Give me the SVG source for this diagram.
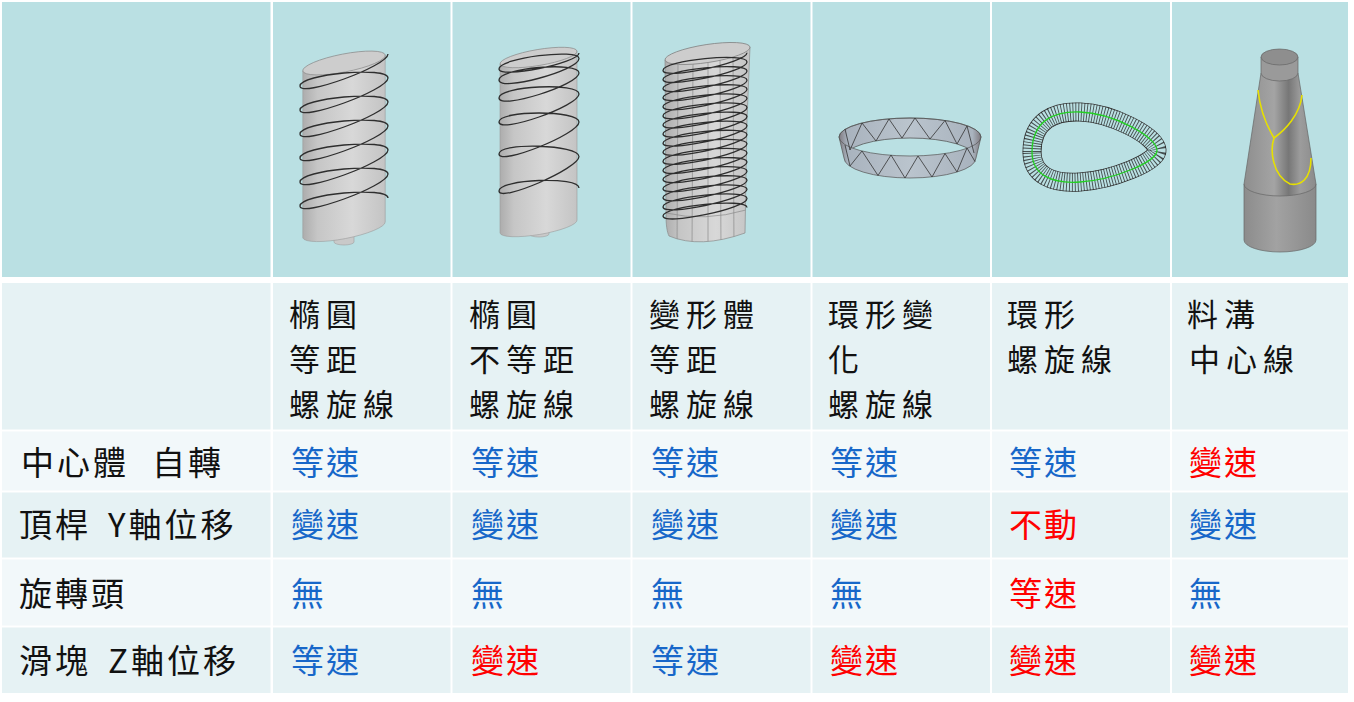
<svg xmlns="http://www.w3.org/2000/svg" width="1354" height="702" viewBox="0 0 1354 702">
<style>
.top{fill:#bae0e3}
.hd{fill:#e6f2f4}
.lt{fill:#f2f8fa}
text{font-family:"Noto Sans CJK TC","Noto Sans CJK SC",sans-serif}
.h{font-size:31px;fill:#111;letter-spacing:6px}
.lb{font-size:33px;fill:#111;letter-spacing:3px}
.b{font-size:33px;fill:#1767c9;letter-spacing:2px}
.r{font-size:33px;fill:#ff0000;letter-spacing:2px}
.hel{fill:none;stroke:#2e2e2e;stroke-width:1.3}
.edge{stroke:#8a8a8a;stroke-width:0.7}
</style>
<defs>
<linearGradient id="gBody" x1="0" y1="0" x2="1" y2="0">
<stop offset="0" stop-color="#adadad"/><stop offset="0.18" stop-color="#c6c6c6"/><stop offset="0.6" stop-color="#d8d8d8"/><stop offset="1" stop-color="#c4c4c4"/>
</linearGradient>
<linearGradient id="gRing" x1="0" y1="0" x2="1" y2="0">
<stop offset="0" stop-color="#7f7a80"/><stop offset="0.06" stop-color="#a9b3be"/><stop offset="0.5" stop-color="#bac4cd"/><stop offset="0.94" stop-color="#a9b3be"/><stop offset="1" stop-color="#7f7a80"/>
</linearGradient>
<linearGradient id="gCyl" x1="0" y1="0" x2="1" y2="0">
<stop offset="0" stop-color="#8c8c8c"/><stop offset="0.45" stop-color="#a2a2a2"/><stop offset="1" stop-color="#8a8a8a"/>
</linearGradient>
<linearGradient id="gCone" x1="0" y1="0" x2="1" y2="0">
<stop offset="0" stop-color="#8e8e8e"/><stop offset="0.42" stop-color="#a4a4a4"/><stop offset="0.62" stop-color="#777"/><stop offset="0.78" stop-color="#9c9c9c"/><stop offset="1" stop-color="#8b8b8b"/>
</linearGradient>
<clipPath id="cTop"><ellipse cx="910" cy="137" rx="71" ry="19"/></clipPath>
<clipPath id="cB3"><path d="M665,60 L666,215 C666,225 667,232 669,236 Q700,249 745,233 L747,120 L750,47 Z"/></clipPath>
<path id="loop5" d="M1032,152 C1032,120 1055,111 1080,112 C1112,113 1156,136 1157,150 C1158,162 1112,180 1080,182 C1052,184 1032,175 1032,152 Z"/>
</defs>

<g id="table">
<rect class="top" x="2" y="2" width="268.5" height="275"/>
<rect class="top" x="273" y="2" width="177.5" height="275"/>
<rect class="top" x="452.5" y="2" width="178" height="275"/>
<rect class="top" x="632.5" y="2" width="178" height="275"/>
<rect class="top" x="812.5" y="2" width="177.5" height="275"/>
<rect class="top" x="992" y="2" width="178" height="275"/>
<rect class="top" x="1172" y="2" width="176" height="275"/>

<rect class="hd" x="2" y="283" width="268.5" height="146.5"/>
<rect class="hd" x="273" y="283" width="177.5" height="146.5"/>
<rect class="hd" x="452.5" y="283" width="178" height="146.5"/>
<rect class="hd" x="632.5" y="283" width="178" height="146.5"/>
<rect class="hd" x="812.5" y="283" width="177.5" height="146.5"/>
<rect class="hd" x="992" y="283" width="178" height="146.5"/>
<rect class="hd" x="1172" y="283" width="176" height="146.5"/>

<rect class="lt" x="2" y="431.5" width="268.5" height="59"/>
<rect class="lt" x="273" y="431.5" width="177.5" height="59"/>
<rect class="lt" x="452.5" y="431.5" width="178" height="59"/>
<rect class="lt" x="632.5" y="431.5" width="178" height="59"/>
<rect class="lt" x="812.5" y="431.5" width="177.5" height="59"/>
<rect class="lt" x="992" y="431.5" width="178" height="59"/>
<rect class="lt" x="1172" y="431.5" width="176" height="59"/>

<rect class="hd" x="2" y="492.5" width="268.5" height="65"/>
<rect class="hd" x="273" y="492.5" width="177.5" height="65"/>
<rect class="hd" x="452.5" y="492.5" width="178" height="65"/>
<rect class="hd" x="632.5" y="492.5" width="178" height="65"/>
<rect class="hd" x="812.5" y="492.5" width="177.5" height="65"/>
<rect class="hd" x="992" y="492.5" width="178" height="65"/>
<rect class="hd" x="1172" y="492.5" width="176" height="65"/>

<rect class="lt" x="2" y="559.5" width="268.5" height="66"/>
<rect class="lt" x="273" y="559.5" width="177.5" height="66"/>
<rect class="lt" x="452.5" y="559.5" width="178" height="66"/>
<rect class="lt" x="632.5" y="559.5" width="178" height="66"/>
<rect class="lt" x="812.5" y="559.5" width="177.5" height="66"/>
<rect class="lt" x="992" y="559.5" width="178" height="66"/>
<rect class="lt" x="1172" y="559.5" width="176" height="66"/>

<rect class="hd" x="2" y="627.5" width="268.5" height="65.5"/>
<rect class="hd" x="273" y="627.5" width="177.5" height="65.5"/>
<rect class="hd" x="452.5" y="627.5" width="178" height="65.5"/>
<rect class="hd" x="632.5" y="627.5" width="178" height="65.5"/>
<rect class="hd" x="812.5" y="627.5" width="177.5" height="65.5"/>
<rect class="hd" x="992" y="627.5" width="178" height="65.5"/>
<rect class="hd" x="1172" y="627.5" width="176" height="65.5"/>
</g>

<g id="connectors"></g>

<g id="img1">
<path d="M334,236 L334,242 A10,3 0 0 0 354,242 L354,236 Z" fill="#c9c9c9" stroke="#a0a0a0" stroke-width="0.6"/>
<path d="M302.8,71 L302.8,238 A42,9 -11 0 0 385.2,222 L385.2,55 Z" fill="url(#gBody)" stroke="#9a9a9a" stroke-width="0.6"/>
<ellipse cx="344" cy="63" rx="42" ry="9" transform="rotate(-11 344 63)" fill="#cdcdcd" stroke="#8a8a8a" stroke-width="0.7"/>
<path class="hel" d="M388,198 c0,-12 -88,-4 -88,8 c0,12 88,-20 88,-32 c0,-12 -88,-4 -88,8 c0,12 88,-20 88,-32 c0,-12 -88,-4 -88,8 c0,12 88,-20 88,-32 c0,-12 -88,-4 -88,8 c0,12 88,-20 88,-32 c0,-12 -88,-4 -88,8 c0,12 88,-20 88,-32 c0,-12 -88,-4 -88,8 c0,12 88,-20 88,-32"/>
</g>

<g id="img2">
<path d="M529,228 L529,234 A10,3 0 0 0 549,234 L549,228 Z" fill="#c9c9c9" stroke="#a0a0a0" stroke-width="0.6"/>
<path d="M500,64 L500,233 A39,8 -9.6 0 0 577,220 L577,51 Z" fill="url(#gBody)" stroke="#9a9a9a" stroke-width="0.6"/>
<ellipse cx="538.5" cy="57.5" rx="39" ry="8" transform="rotate(-9.6 538.5 57.5)" fill="#cdcdcd" stroke="#8a8a8a" stroke-width="0.7"/>
<path class="hel" d="M579,188 C579,176 499,179 499,191 C499,203 579,168.5 579,156.5 C579,144.5 499,142 499,154 C499,166 579,134 579,122 C579,110 499,110 499,122 C499,134 579,106 579,94 C579,82 499,86 499,98 C499,110 579,85 579,73 C579,61 499,68 499,80 C499,92 579,70.5 579,58.5 C579,48 499,58 499,69 C499,79 579,63 579,53"/>
</g>

<g id="img3">
<path d="M665,60 L666,215 C666,225 667,232 669,236 Q700,249 745,233 L747,120 L750,47 Z" fill="url(#gBody)" stroke="#8a8a8a" stroke-width="0.7"/>
<g clip-path="url(#cB3)" class="edge">
<line x1="678" y1="60" x2="677" y2="250"/>
<line x1="693" y1="58" x2="692" y2="250"/>
<line x1="708" y1="56" x2="708" y2="250"/>
<line x1="720" y1="54" x2="721" y2="250"/>
<line x1="733" y1="52" x2="734" y2="250"/>
<path d="M666,213 Q705,222 746,210" fill="none"/>
</g>
<ellipse cx="707.5" cy="53.5" rx="43" ry="9" transform="rotate(-8.7 707.5 53.5)" fill="#cdcdcd" stroke="#7a7a7a" stroke-width="0.7"/>
<path class="hel" stroke-width="1.1" d="M747,207.55 c0,-10 -84,-1.55 -84,8.45 c0,10 84,-7.55 84,-17.55 c0,-10 -84,-1.55 -84,8.45 c0,10 84,-7.55 84,-17.55 c0,-10 -84,-1.55 -84,8.45 c0,10 84,-7.55 84,-17.55 c0,-10 -84,-1.55 -84,8.45 c0,10 84,-7.55 84,-17.55 c0,-10 -84,-1.55 -84,8.45 c0,10 84,-7.55 84,-17.55 c0,-10 -84,-1.55 -84,8.45 c0,10 84,-7.55 84,-17.55 c0,-10 -84,-1.55 -84,8.45 c0,10 84,-7.55 84,-17.55 c0,-10 -84,-1.55 -84,8.45 c0,10 84,-7.55 84,-17.55 c0,-10 -84,-1.55 -84,8.45 c0,10 84,-7.55 84,-17.55 c0,-10 -84,-1.55 -84,8.45 c0,10 84,-7.55 84,-17.55 c0,-10 -84,-1.55 -84,8.45 c0,10 84,-7.55 84,-17.55 c0,-10 -84,-1.55 -84,8.45 c0,10 84,-7.55 84,-17.55 c0,-10 -84,-1.55 -84,8.45 c0,10 84,-7.55 84,-17.55 c0,-10 -84,-1.55 -84,8.45 c0,10 84,-7.55 84,-17.55 c0,-10 -84,-1.55 -84,8.45 c0,10 84,-7.55 84,-17.55 c0,-10 -84,-1.55 -84,8.45 c0,10 84,-7.55 84,-17.55 c0,-10 -84,-1.55 -84,8.45 c0,10 84,-7.55 84,-17.55"/>
</g>

<g id="img4">
<path d="M839,137 A71,19 0 0 1 981,137 L976,158 A66,20 0 0 1 844,158 Z" fill="url(#gRing)" stroke="#555" stroke-width="0.7"/>
<ellipse cx="910" cy="158" rx="66" ry="20" clip-path="url(#cTop)" fill="#bae0e3" stroke="#555" stroke-width="0.8"/>
<ellipse cx="910" cy="137" rx="71" ry="19" fill="none" stroke="#555" stroke-width="0.7"/>
<polyline points="845,129 850,150 862,123 876,141 889,119 902,138 915,118 930,139 945,120.5 957,144 967,126 974,153" fill="none" stroke="#333" stroke-width="0.8"/>
<polyline points="845,145 850,166 862,151 878,175.5 891,155 905,178 918,156 932,177 945,153.5 957,172 967,148 975,161.5" fill="none" stroke="#333" stroke-width="0.8"/>
</g>

<g id="img5">
<use href="#loop5" fill="none" stroke="#3a3a3a" stroke-width="19"/>
<use href="#loop5" fill="none" stroke="#bae0e3" stroke-width="17.4"/>
<use href="#loop5" fill="none" stroke="#1e1e1e" stroke-opacity="0.75" stroke-width="18.6" stroke-dasharray="0.9 1.9"/>
<use href="#loop5" fill="none" stroke="#22d022" stroke-width="1.3"/>
</g>

<g id="img6">
<path d="M1244,184 L1244,240 A36,12 0 0 0 1316,240 L1316,184 Z" fill="url(#gCyl)" stroke="#666" stroke-width="0.7"/>
<path d="M1261,73 L1244,184 A36,12 0 0 0 1316,184 L1298,73 Z" fill="url(#gCone)" stroke="#666" stroke-width="0.7"/>
<path d="M1261,57 L1261,73 A18.5,8 0 0 0 1298,73 L1298,57 Z" fill="#9a9a9a" stroke="#666" stroke-width="0.7"/>
<ellipse cx="1279.5" cy="57" rx="18.5" ry="8" fill="#8e8e8e" stroke="#666" stroke-width="0.7"/>
<path d="M1258,90 C1260,110 1268,128 1274,138 M1302,95 C1300,115 1285,130 1274,138 C1270,150 1272,175 1290,184 C1300,186 1311,180 1311,158" fill="none" stroke="#e6e000" stroke-width="1.6"/>
</g>

<g id="headers">
<text class="h" x="289" y="326">橢圓</text><text class="h" x="289" y="371">等距</text><text class="h" x="289" y="416">螺旋線</text>
<text class="h" x="469" y="326">橢圓</text><text class="h" x="469" y="371">不等距</text><text class="h" x="469" y="416">螺旋線</text>
<text class="h" x="649" y="326">變形體</text><text class="h" x="649" y="371">等距</text><text class="h" x="649" y="416">螺旋線</text>
<text class="h" x="828" y="326">環形變</text><text class="h" x="828" y="371">化</text><text class="h" x="828" y="416">螺旋線</text>
<text class="h" x="1007" y="326">環形</text><text class="h" x="1007" y="371">螺旋線</text>
<text class="h" x="1187" y="326">料溝</text><text class="h" x="1189" y="371">中心線</text>
</g>

<g id="labels">
<text class="lb" y="475"><tspan x="21">中心體</tspan><tspan x="152">自轉</tspan></text>
<text class="lb" y="537"><tspan x="19">頂桿</tspan><tspan x="108">Y軸位移</tspan></text>
<text class="lb" x="19" y="606">旋轉頭</text>
<text class="lb" y="673"><tspan x="19">滑塊</tspan><tspan x="108">Z軸位移</tspan></text>
</g>

<g id="row-rotation">
<text class="b" x="291" y="475">等速</text>
<text class="b" x="471" y="475">等速</text>
<text class="b" x="651" y="475">等速</text>
<text class="b" x="830" y="475">等速</text>
<text class="b" x="1009" y="475">等速</text>
<text class="r" x="1189" y="475">變速</text>
</g>
<g id="row-rod">
<text class="b" x="291" y="537">變速</text>
<text class="b" x="471" y="537">變速</text>
<text class="b" x="651" y="537">變速</text>
<text class="b" x="830" y="537">變速</text>
<text class="r" x="1009" y="537">不動</text>
<text class="b" x="1189" y="537">變速</text>
</g>
<g id="row-head">
<text class="b" x="291" y="606">無</text>
<text class="b" x="471" y="606">無</text>
<text class="b" x="651" y="606">無</text>
<text class="b" x="830" y="606">無</text>
<text class="r" x="1009" y="606">等速</text>
<text class="b" x="1189" y="606">無</text>
</g>
<g id="row-slider">
<text class="b" x="291" y="673">等速</text>
<text class="r" x="471" y="673">變速</text>
<text class="b" x="651" y="673">等速</text>
<text class="r" x="830" y="673">變速</text>
<text class="r" x="1009" y="673">變速</text>
<text class="r" x="1189" y="673">變速</text>
</g>
</svg>
